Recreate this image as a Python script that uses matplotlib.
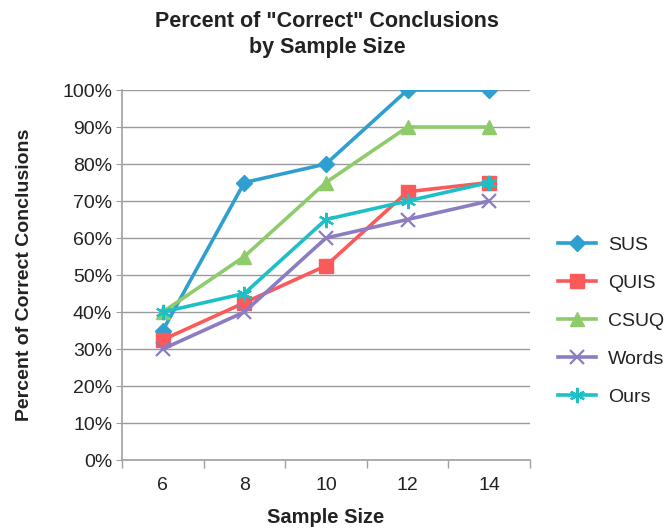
import matplotlib.pyplot as plt
from matplotlib.ticker import FuncFormatter

plt.rcParams['font.family'] = ['Liberation Sans', 'DejaVu Sans']

sample_sizes = ['6', '8', '10', '12', '14']
sus = [35, 75, 80, 100, 100]
quis = [32.5, 42.5, 52.5, 72.5, 75]
csuq = [40, 55, 75, 90, 90]
words = [30, 40, 60, 65, 70]
ours = [40, 45, 65, 70, 75]

series = [
    ('SUS', sus, '#2f9fcf', 'D', 8),
    ('QUIS', quis, '#fb5a5a', 's', 10),
    ('CSUQ', csuq, '#8ecb6b', '^', 10),
    ('Words', words, '#8c7cc2', 'x', 10),
    ('Ours', ours, '#1fbfc6', (6, 2, 0), 11),
]

fig = plt.figure(figsize=(6.72, 5.31), dpi=100)
ax = fig.add_axes([0.1815, 0.1337, 0.607, 0.6968])

xs = list(range(len(sample_sizes)))
for name, vals, color, marker, ms in series:
    thin = marker in ('x', (6, 2, 0))
    ax.plot(xs, vals, color=color, lw=2.6, marker=marker, ms=ms,
            mew=1.6 if thin else 1, mec=color, mfc=color,
            label=name, zorder=3)

ax.set_xlim(-0.5, len(sample_sizes) - 0.5)
ax.set_ylim(0, 100)
ax.set_yticks(range(0, 101, 10))
ax.yaxis.set_major_formatter(FuncFormatter(lambda v, p: f'{int(v)}%'))
ax.set_xticks(xs)
ax.set_xticklabels(sample_sizes)
ax.set_xticks([x - 0.5 for x in range(len(sample_sizes) + 1)], minor=True)
ax.tick_params(axis='x', which='major', length=0, labelsize=14, pad=12)
ax.tick_params(axis='x', which='minor', length=6, color='#a0a0a0', width=1)
ax.tick_params(axis='y', length=4, color='#a0a0a0', labelsize=14, pad=3,
               labelcolor='#222222')
ax.tick_params(axis='x', labelcolor='#222222')

ax.grid(axis='y', color='#9a9a9a', lw=1)
ax.set_axisbelow(True)
for s in ['top', 'right']:
    ax.spines[s].set_visible(False)
ax.spines['left'].set_color('#a0a0a0')
ax.spines['bottom'].set_color('#a0a0a0')
ax.spines['left'].set_linewidth(1.2)
ax.spines['bottom'].set_linewidth(1.2)

ax.set_xlabel('Sample Size', fontsize=14.5, fontweight='bold', labelpad=10, color='#222222')
ax.set_ylabel('Percent of Correct Conclusions', fontsize=14, fontweight='bold', labelpad=21,
              color='#222222')
fig.text(0.487, 0.935, 'Percent of "Correct" Conclusions\nby Sample Size', ha='center',
         va='center', fontsize=15.5, fontweight='bold', linespacing=1.3, color='#222222')

ax.legend(loc='center left', bbox_to_anchor=(1.025, 0.375), frameon=False, fontsize=14,
          handlelength=2.0, labelspacing=1.05, handletextpad=0.6, labelcolor='#222222')

fig.savefig('out.png', dpi=100)
